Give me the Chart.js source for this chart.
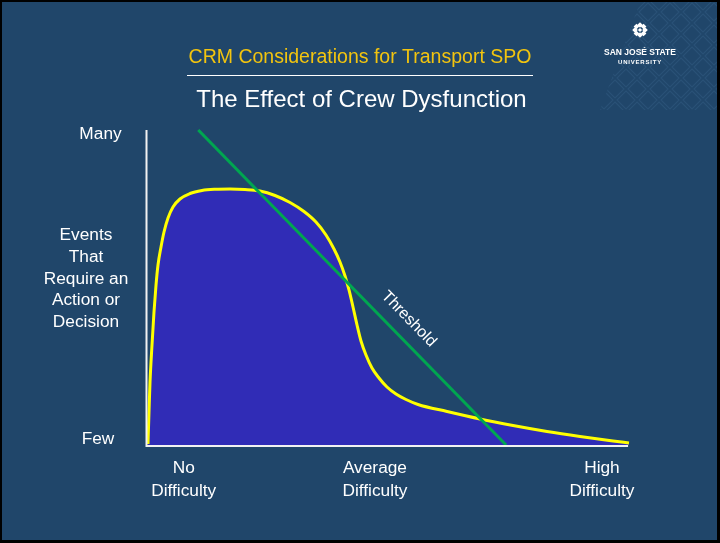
<!DOCTYPE html>
<html>
<head>
<meta charset="utf-8">
<script src="https://cdn.jsdelivr.net/npm/chart.js@4.4.1/dist/chart.umd.min.js"></script>
<style>
  html, body { margin: 0; padding: 0; background: #000; }
  #wrap { width: 720px; height: 543px; }
</style>
</head>
<body>
<div id="wrap"><canvas id="c" width="720" height="543"></canvas></div>
<script>
// ---- data (x: task difficulty 0..100, y: number of events 0..100) ----
const curveX = [0.41, 0.62, 0.83, 1.24, 1.65, 2.07, 2.48, 3.10, 3.72, 4.55, 5.58, 7.02, 9.09, 11.57, 14.26, 17.36, 20.45, 23.55, 26.65, 29.75, 32.64, 35.12, 37.19, 38.84, 40.08, 41.12, 41.94, 42.77, 43.60, 44.42, 45.45, 46.69, 48.14, 49.79, 51.65, 53.72, 56.20, 62.19, 69.01, 75.83, 82.85, 89.67, 96.49, 99.79];
const curveY = [0.32, 10.48, 20.0, 31.75, 42.22, 50.79, 57.14, 62.86, 67.62, 72.06, 75.56, 78.10, 79.84, 80.79, 81.17, 81.27, 81.11, 80.63, 79.21, 76.98, 74.13, 70.79, 66.67, 62.22, 58.10, 53.65, 49.21, 43.81, 38.10, 33.02, 28.57, 24.44, 21.27, 18.41, 16.19, 14.44, 12.86, 10.63, 8.25, 6.19, 4.29, 2.70, 1.27, 0.63];
const thresholdX = [10.8, 74.4];
const thresholdY = [100, 0];
const thresholdLabel = "Threshold";
const thresholdLabelAt = [54.3, 40];

const categoryLabels = [["No", "Difficulty"], ["Average", "Difficulty"], ["High", "Difficulty"]];
const categoryPos = [7.8, 47.3, 94.2];
const yTickLabels = ["Few", "Many"];
const yTickPos = [2.2, 98.9];
const yTitleLines = ["Events", "That", "Require an", "Action or", "Decision"];
const titleTop = "CRM Considerations for Transport SPO";
const titleMain = "The Effect of Crew Dysfunction";

const BG = "#20466a";
const FONT = "'Liberation Sans', Arial, sans-serif";

function wideText(ctx, t, x, y, sx) {
  ctx.save();
  ctx.translate(x, y);
  ctx.scale(sx, 1);
  ctx.fillText(t, 0, 0);
  ctx.restore();
}

const decor = {
  id: 'decor',
  beforeDraw(chart) {
    const ctx = chart.ctx;
    ctx.save();
    ctx.fillStyle = "#000";
    ctx.fillRect(0, 0, 720, 543);
    ctx.fillStyle = BG;
    ctx.fillRect(2, 2, 715, 538);
    // faint lattice in the top-right corner
    ctx.beginPath();
    ctx.moveTo(640, 2); ctx.lineTo(717, 2); ctx.lineTo(717, 110); ctx.lineTo(600, 110); ctx.closePath();
    ctx.clip();
    ctx.strokeStyle = "rgba(120,170,220,0.11)";
    ctx.lineWidth = 1.2;
    const s = 11;
    for (let cx = 560; cx < 740; cx += 2 * s) {
      for (let cy = -10; cy < 130; cy += 2 * s) {
        for (const off of [0, s]) {
          const x = cx + off, y = cy + off;
          ctx.beginPath();
          ctx.moveTo(x, y - s + 2); ctx.lineTo(x + s - 2, y); ctx.lineTo(x, y + s - 2); ctx.lineTo(x - s + 2, y); ctx.closePath();
          ctx.stroke();
        }
      }
    }
    ctx.restore();
  },
  afterDatasetsDraw(chart) {
    const ctx = chart.ctx;
    const xs = chart.scales.x, ys = chart.scales.y;
    const a = chart.chartArea;
    ctx.save();
    // axes
    ctx.strokeStyle = "#f2f2f2";
    ctx.lineWidth = 2;
    ctx.beginPath();
    ctx.moveTo(a.left + 0.5, a.top);
    ctx.lineTo(a.left + 0.5, a.bottom + 1);
    ctx.lineTo(xs.getPixelForValue(99.6), a.bottom + 1);
    ctx.stroke();

    ctx.fillStyle = "#ffffff";
    ctx.textAlign = "center";
    ctx.textBaseline = "alphabetic";
    const SX = 1.08;
    // y tick labels
    ctx.font = "16px " + FONT;
    yTickLabels.forEach((t, i) => {
      wideText(ctx, t, i === 0 ? 98 : 100.5, ys.getPixelForValue(yTickPos[i]) + 6, SX);
    });
    // y title
    yTitleLines.forEach((t, i) => wideText(ctx, t, 86, 240 + i * 21.8, SX));
    // x category labels
    categoryLabels.forEach((lines, i) => {
      const px = xs.getPixelForValue(categoryPos[i]);
      lines.forEach((t, j) => wideText(ctx, t, px, 473 + j * 23, SX));
    });
    // threshold label
    const tx = xs.getPixelForValue(thresholdLabelAt[0]);
    const ty = ys.getPixelForValue(thresholdLabelAt[1]);
    const ang = Math.atan2(ys.getPixelForValue(thresholdY[1]) - ys.getPixelForValue(thresholdY[0]),
                           xs.getPixelForValue(thresholdX[1]) - xs.getPixelForValue(thresholdX[0]));
    ctx.translate(tx, ty);
    ctx.rotate(ang);
    ctx.textBaseline = "middle";
    ctx.fillText(thresholdLabel, 0, 0);
    ctx.restore();

    // titles
    ctx.save();
    ctx.textAlign = "center";
    ctx.fillStyle = "#f2c40f";
    ctx.font = "19.5px " + FONT;
    ctx.fillText(titleTop, 360, 63);
    ctx.strokeStyle = "#ffffff";
    ctx.lineWidth = 1;
    ctx.beginPath(); ctx.moveTo(187, 75.5); ctx.lineTo(533, 75.5); ctx.stroke();
    ctx.fillStyle = "#ffffff";
    ctx.font = "24px " + FONT;
    ctx.fillText(titleMain, 361.5, 107);

    // logo
    const lx = 640, ly = 30;
    ctx.fillStyle = "#ffffff";
    for (let k = 0; k < 8; k++) {
      const ang2 = k * Math.PI / 4;
      ctx.save();
      ctx.translate(lx + Math.cos(ang2) * 5, ly + Math.sin(ang2) * 5);
      ctx.rotate(Math.PI / 4);
      ctx.fillRect(-2, -2, 4, 4);
      ctx.restore();
    }
    ctx.save();
    ctx.translate(lx, ly); ctx.rotate(Math.PI / 4); ctx.fillRect(-1.5, -1.5, 3, 3);
    ctx.restore();
    ctx.font = "bold 8.5px " + FONT;
    ctx.fillText("SAN JOSÉ STATE", lx, 55);
    ctx.font = "bold 6px " + FONT;
    if ('letterSpacing' in ctx) ctx.letterSpacing = "0.8px";
    ctx.fillText("UNIVERSITY", lx, 64);
    ctx.restore();
  }
};

const curveData = curveX.map((x, i) => ({ x, y: curveY[i] }));
const thresholdData = thresholdX.map((x, i) => ({ x, y: thresholdY[i] }));

new Chart(document.getElementById('c'), {
  type: 'line',
  data: {
    datasets: [
      {
        label: 'Events',
        data: curveData,
        borderColor: '#ffff00',
        borderWidth: 3,
        backgroundColor: '#302cb6',
        fill: 'origin',
        pointRadius: 0,
        cubicInterpolationMode: 'monotone',
        order: 1,
        clip: false
      },
      {
        label: 'Threshold',
        data: thresholdData,
        borderColor: '#00a650',
        borderWidth: 3,
        fill: false,
        pointRadius: 0,
        tension: 0,
        order: 0,
        clip: false
      }
    ]
  },
  options: {
    responsive: false,
    animation: false,
    devicePixelRatio: 1,
    layout: { padding: { left: 146, right: 90, top: 130, bottom: 98 } },
    scales: {
      x: { type: 'linear', min: 0, max: 100, display: false },
      y: { type: 'linear', min: 0, max: 100, display: false }
    },
    plugins: {
      legend: { display: false },
      tooltip: { enabled: false },
      title: { display: false }
    }
  },
  plugins: [decor]
});
</script>
</body>
</html>
